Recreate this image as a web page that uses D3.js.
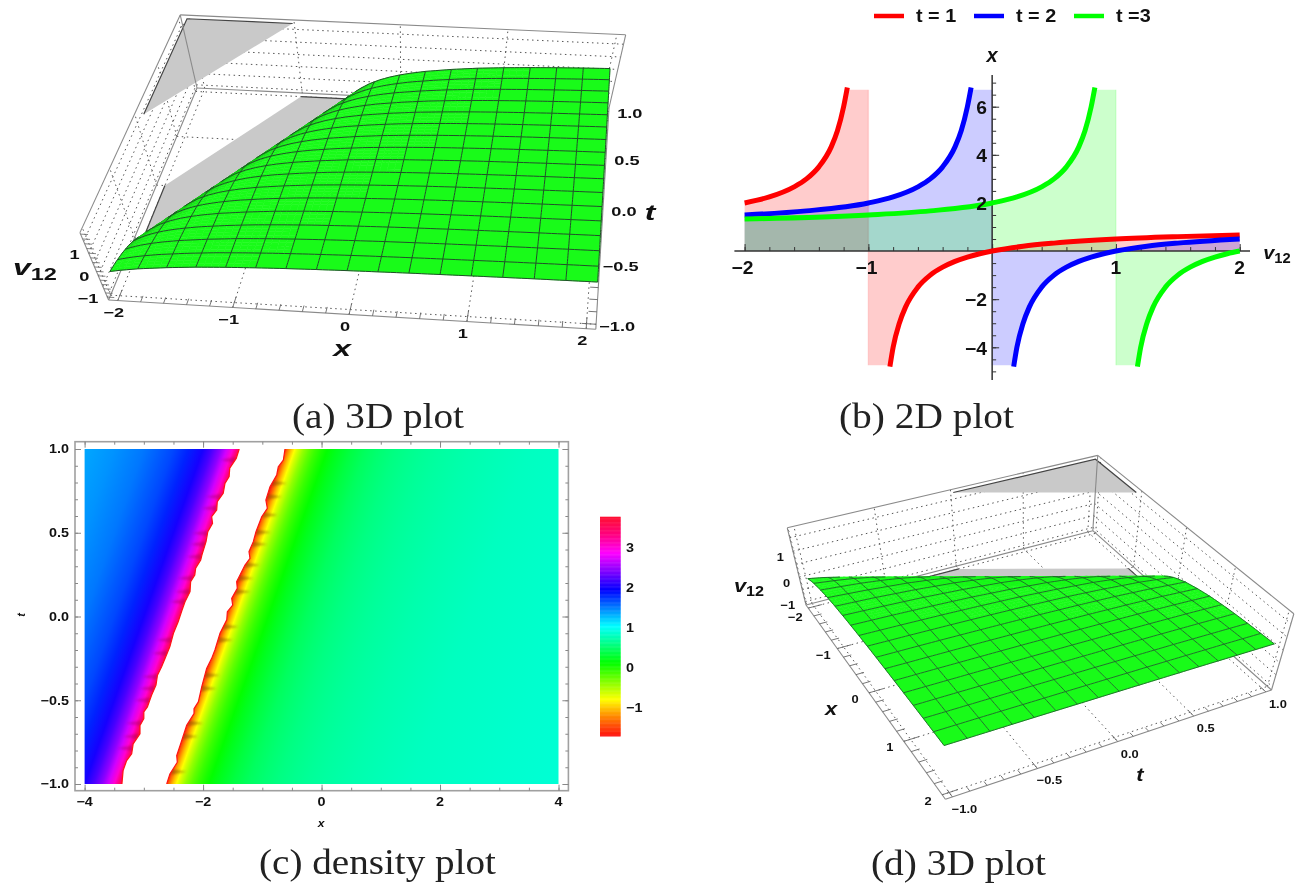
<!DOCTYPE html>
<html>
<head>
<meta charset="utf-8">
<script src="https://cdn.jsdelivr.net/npm/d3@7"></script>
<style>
  body { margin: 0; background: #fff; }
  svg { display: block; font-family: "Liberation Sans", Arial, sans-serif; filter: blur(0.45px); }
  .cap { font-family: "Liberation Serif", serif; fill: #222; }
</style>
</head>
<body>
<div id="chart"></div>
<script>
// curve x(v12), one array per branch
const t1Left = [[-2,2],[-1.8,2.25],[-1.6,2.67],[-1.5,3],[-1.4,3.5],[-1.3,4.33],[-1.25,5],[-1.2,6],[-1.17,6.8]];
const t1Right = [[-0.826,-4.8],[-0.8,-4],[-0.75,-3],[-0.7,-2.33],[-0.6,-1.5],[-0.5,-1],[-0.4,-0.67],[-0.3,-0.43],[-0.2,-0.25],[-0.1,-0.11],[0,0],[0.25,0.2],[0.5,0.33],[1,0.5],[1.5,0.6],[2,0.67]];
const t2Left = [[-2,1.5],[-1.5,1.67],[-1,2],[-0.8,2.25],[-0.6,2.67],[-0.5,3],[-0.4,3.5],[-0.3,4.33],[-0.25,5],[-0.2,6],[-0.17,6.8]];
const t2Right = [[0.174,-4.8],[0.2,-4],[0.25,-3],[0.3,-2.33],[0.4,-1.5],[0.5,-1],[0.6,-0.67],[0.7,-0.43],[0.8,-0.25],[0.9,-0.11],[1,0],[1.25,0.2],[1.5,0.33],[2,0.5]];
const t3Left = [[-2,1.33],[-1,1.5],[-0.5,1.67],[0,2],[0.2,2.25],[0.4,2.67],[0.5,3],[0.6,3.5],[0.7,4.33],[0.75,5],[0.8,6],[0.83,6.8]];
const t3Right = [[1.174,-4.8],[1.2,-4],[1.25,-3],[1.3,-2.33],[1.4,-1.5],[1.5,-1],[1.6,-0.67],[1.7,-0.43],[1.8,-0.25],[1.9,-0.11],[2,0]];
const curveNames = ['t = 1', 't = 2', 't =3'];
const curveColors = ['#ff0000', '#0000ff', '#00ff00'];
const curvePoles = [-1, 0, 1];

const leftU = [-5,-4.5,-4,-3.5,-3.25,-3,-2.85,-2.7,-2.6,-2.5,-2.45,-2.4,-2.36];
const leftV = [1.33,1.4,1.5,1.67,1.8,2,2.18,2.43,2.67,3,3.22,3.5,3.78];
const rightU = [-1.64,-1.6,-1.55,-1.533,-1.5,-1.45,-1.4,-1.3,-1.2,-1.1,-1,-0.9,-0.75,-0.5,-0.25,0,0.25,0.5,0.75,1,1.5,2,2.5,3,4,5];
const rightV = [-1.78,-1.5,-1.22,-1.14,-1,-0.82,-0.67,-0.43,-0.25,-0.11,0,0.09,0.2,0.33,0.43,0.5,0.556,0.6,0.636,0.667,0.714,0.75,0.78,0.8,0.833,0.857];

// edges of the white band in panel (c)
const bandLeftT = [1,0.944,0.885,0.835,0.795,0.735,0.685,0.636,0.596,0.556,0.506,0.447,0.367,0.337,0.288,0.248,0.208,0.148,0.088,0.033,-0.031,-0.1,-0.18,-0.24,-0.3,-0.35,-0.41,-0.47,-0.54,-0.57,-0.61,-0.65,-0.7,-0.76,-0.82,-0.86,-0.92,-1];
const bandLeftX = [-1.39,-1.44,-1.55,-1.56,-1.63,-1.66,-1.76,-1.77,-1.855,-1.84,-1.92,-1.95,-2.02,-2.04,-2.125,-2.14,-2.21,-2.22,-2.305,-2.36,-2.42,-2.5,-2.56,-2.63,-2.7,-2.77,-2.795,-2.87,-2.94,-3,-3,-3.065,-3.065,-3.18,-3.205,-3.29,-3.35,-3.37];
const bandRightT = [1,0.934,0.894,0.845,0.775,0.695,0.646,0.596,0.506,0.447,0.387,0.347,0.307,0.208,0.168,0.108,0.068,0.029,-0.02,-0.1,-0.2,-0.25,-0.31,-0.42,-0.51,-0.55,-0.58,-0.65,-0.76,-0.83,-0.87,-0.94,-1];
const bandRightX = [-0.617,-0.645,-0.73,-0.757,-0.87,-0.94,-0.915,-1.01,-1.107,-1.152,-1.225,-1.208,-1.292,-1.433,-1.422,-1.517,-1.5,-1.59,-1.6,-1.714,-1.8,-1.855,-1.94,-2.023,-2.08,-2.153,-2.153,-2.277,-2.378,-2.445,-2.435,-2.56,-2.614];
const nickLeftT = [0.934,0.715,0.646,0.497,0.431,0.357,0.228,0.148,0.088,-0.14,-0.22,-0.36,-0.43,-0.5,-0.637,-0.717,-0.787];
const nickRightT = [0.795,0.715,0.606,0.503,0.431,0.307,0.228,0.148,-0.061,-0.14,-0.35,-0.43,-0.637,-0.717,-0.927];

// hue legend of panel (c)
const hueValues = [-1.73,-1.27,-0.82,-0.36,0.1,0.55,1.01,1.47,1.92,2.38,2.84,3.3,3.75];
const hueColors = ['#ff1010','#ff8000','#ffff00','#80ff00','#00ff00','#00ff80','#00ffff','#0080ff','#0000ff','#8000ff','#ff00ff','#ff0080','#ff1030'];

// surface mesh and tick values
const meshX = [-2,-1.75,-1.5,-1.25,-1,-0.75,-0.5,-0.25,0,0.25,0.5,0.75,1,1.25,1.5,1.75,2];
const meshT = [-1,-0.875,-0.75,-0.625,-0.5,-0.375,-0.25,-0.125,0,0.125,0.25,0.375,0.5,0.625,0.75,0.875,1];
const xTicks3d = [-2,-1,0,1,2];
const tTicks3d = [-1,-0.5,0,0.5,1];
const zTicks3d = [-1,0,1];
const zGrid3d = [-1,-0.5,0,0.5,1,1.5];
const boxX = [-2.08,2.08];
const boxT = [-1.04,1.04];
const boxZ = [-1.14,1.86];
const greyTop = [[-2,1],[-1,1],[-2,0]];
const greyBottom = [[-1,1],[-0.533,1],[-2,-0.467],[-2,0]];
const uClip = -1.533;

const svg = d3.select('#chart').append('svg').attr('width', 1306).attr('height', 883);
const fmt = d => String(d).replace('-', '\u2212');
const fmt1 = d => d3.format('.1f')(d).replace('-', '\u2212');

function label(g, x, y, str, o = {}) {
  return g.append('text')
    .attr('transform', `translate(${x},${y}) scale(${o.sx || 1},1)${o.rot ? ` rotate(${o.rot})` : ''}`)
    .attr('dy', '.35em')
    .attr('text-anchor', o.anchor || 'middle')
    .attr('font-size', o.size || 12)
    .attr('font-weight', o.weight || 'bold')
    .attr('font-style', o.italic ? 'italic' : 'normal')
    .attr('fill', '#111')
    .text(str);
}

function subLabel(g, x, y, size, sx) {
  const t = g.append('text')
    .attr('transform', `translate(${x},${y}) scale(${sx},1)`)
    .attr('text-anchor', 'middle').attr('font-weight', 'bold').attr('fill', '#111');
  t.append('tspan').attr('font-size', size).attr('font-style', 'italic').text('v');
  t.append('tspan').attr('font-size', size * 0.74).attr('dy', size * 0.22).text('12');
}

function caption(x0, x1, y, str) {
  svg.append('text').attr('class', 'cap')
    .attr('x', x0).attr('y', y)
    .attr('font-size', 35)
    .attr('textLength', x1 - x0)
    .attr('lengthAdjust', 'spacingAndGlyphs')
    .text(str);
}

// projective camera of a box, fitted on the drawn corners of its walls
function boxCamera(c) {
  const [x0, y0] = c.A, [x1, y1] = c.B, [x2, y2] = c.C, [x3, y3] = c.D;
  const dx1 = x1 - x2, dx2 = x3 - x2, sx = x0 - x1 + x2 - x3;
  const dy1 = y1 - y2, dy2 = y3 - y2, sy = y0 - y1 + y2 - y3;
  const den = dx1 * dy2 - dx2 * dy1;
  const g = (sx * dy2 - dx2 * sy) / den, h = (dx1 * sy - sx * dy1) / den;
  const p1 = [x1 - x0 + g * x1, y1 - y0 + g * y1, g];
  const p2 = [x3 - x0 + h * x3, y3 - y0 + h * y3, h];
  const p0 = [x0, y0, 1];
  // the z column from least squares on the three top corners
  const N = [[0,0,0],[0,0,0],[0,0,0]], R = [0,0,0];
  [[c.E,0,0],[c.F,0,1],[c.H,1,1]].forEach(([[u, v], a, b]) => {
    const q = [0,1,2].map(i => p0[i] + a * p1[i] + b * p2[i]);
    [[[1,0,-u], u * q[2] - q[0]], [[0,1,-v], v * q[2] - q[1]]].forEach(([r, s]) => {
      for (let i = 0; i < 3; i++) {
        R[i] += r[i] * s;
        for (let j = 0; j < 3; j++) N[i][j] += r[i] * r[j];
      }
    });
  });
  const det = m => m[0][0]*(m[1][1]*m[2][2]-m[1][2]*m[2][1]) - m[0][1]*(m[1][0]*m[2][2]-m[1][2]*m[2][0]) + m[0][2]*(m[1][0]*m[2][1]-m[1][1]*m[2][0]);
  const D = det(N);
  const p3 = [0,1,2].map(k => det(N.map((row, i) => row.map((val, j) => j === k ? R[i] : val))) / D);
  const sa = d3.scaleLinear().domain(boxX).range([0, 1]);
  const sb = d3.scaleLinear().domain(boxT).range([0, 1]);
  const sc = d3.scaleLinear().domain(boxZ).range([0, 1]);
  return (x, t, z) => {
    const a = sa(x), b = sb(t), e = sc(z);
    const w = p0[2] + a * p1[2] + b * p2[2] + e * p3[2];
    return [(p0[0] + a * p1[0] + b * p2[0] + e * p3[0]) / w,
            (p0[1] + a * p1[1] + b * p2[1] + e * p3[1]) / w];
  };
}

const vOfU = d3.scaleLinear().domain(rightU).range(rightV).clamp(true);
const surfaceShade = d3.scaleLinear()
  .domain([-1.14, -0.75, -0.35, -0.1])
  .range(['#0f8f0f', '#10b510', '#16e016', '#19fb19'])
  .clamp(true);

// keep the part of an (x,t) polygon on the surface side of the clip line
function clipPolygon(pts) {
  const out = [];
  pts.forEach((p, i) => {
    const q = pts[(i + 1) % pts.length];
    const up = p[0] - p[1] - uClip, uq = q[0] - q[1] - uClip;
    if (up >= 0) out.push(p);
    if (up * uq < 0) {
      const f = up / (up - uq);
      out.push([p[0] + f * (q[0] - p[0]), p[1] + f * (q[1] - p[1])]);
    }
  });
  return out;
}

function draw3d(cfg) {
  const g = svg.append('g');
  const cam = boxCamera(cfg.corners);
  const line = d3.line();
  const [x0, x1] = boxX, [t0, t1] = boxT, [z0, z1] = boxZ;
  const seg = (a, b, st, w, dash) => g.append('path')
    .attr('d', line([cam(...a), cam(...b)]))
    .attr('fill', 'none').attr('stroke', st).attr('stroke-width', w)
    .attr('stroke-dasharray', dash || null);

  // dotted face grids
  const dots = (a, b) => seg(a, b, '#555', 1, '1.5 3.5');
  xTicks3d.forEach(x => { dots([x, t0, z0], [x, t1, z0]); dots([x, t1, z0], [x, t1, z1]); });
  tTicks3d.forEach(t => { dots([x0, t, z0], [x1, t, z0]); dots([x0, t, z0], [x0, t, z1]); });
  zGrid3d.forEach(z => { dots([x0, t1, z], [x1, t1, z]); dots([x0, t0, z], [x0, t1, z]); });

  // clipped parts of the surface
  [[greyTop, z1], [greyBottom, z0]].forEach(([poly, z]) => {
    g.append('path')
      .attr('d', line(poly.map(p => cam(p[0], p[1], z))) + 'Z')
      .attr('fill', '#c9c9c9');
  });
  [[[-1, 1, z1], [-2, 1, z1], [-2, 0, z1]], [[-0.533, 1, z0], [-1, 1, z0]], [[-2, 0, z0], [-2, -0.467, z0]]].forEach(pts => {
    g.append('path').attr('d', line(pts.map(p => cam(...p))))
      .attr('fill', 'none').attr('stroke', '#444').attr('stroke-width', 1.2);
  });

  // box edges
  const edge = (a, b) => seg(a, b, '#8a8a8a', 1.1);
  edge([x0,t0,z0],[x1,t0,z0]); edge([x1,t0,z0],[x1,t1,z0]); edge([x1,t1,z0],[x0,t1,z0]); edge([x0,t1,z0],[x0,t0,z0]);
  edge([x0,t0,z1],[x0,t1,z1]); edge([x0,t1,z1],[x1,t1,z1]);
  edge([x0,t0,z0],[x0,t0,z1]); edge([x0,t1,z0],[x0,t1,z1]); edge([x1,t1,z0],[x1,t1,z1]);

  // axis ticks
  const tickGrey = '#666';
  d3.range(-2, 2.01, 0.2).forEach(x => {
    const major = Number.isInteger(+x.toFixed(3));
    seg([x, t0, z0], [x, t0 + (major ? 0.09 : 0.05), z0], tickGrey, 0.9);
  });
  d3.range(-1, 1.01, 0.1).forEach(t => {
    const major = Math.abs(t * 2 - Math.round(t * 2)) < 1e-6;
    seg([x1, t, z0], [x1 - (major ? 0.12 : 0.07), t, z0], tickGrey, 0.9);
  });
  d3.range(-1, 1.81, 0.2).forEach(z => seg([x0, t0, z], [x0 + 0.06, t0, z], tickGrey, 0.8));

  const zAt = (x, t) => vOfU(Math.max(x - t, uClip));
  const onSurface = (x, t) => cam(x, t, zAt(x, t));

  // the side of the surface that folds away from the camera
  const facing = (x, t) => {
    const e = 0.004, c = onSurface(x, t), a = onSurface(x + e, t), b = onSurface(x, t - e);
    return (a[0] - c[0]) * (b[1] - c[1]) - (a[1] - c[1]) * (b[0] - c[0]);
  };
  const frontSign = Math.sign(facing(1, 0));
  const isFront = (x, t) => Math.sign(facing(x, t)) === frontSign;

  // surface cells, the hidden side first and then back to front
  const backCells = g.append('g'), frontCells = g.append('g');
  for (let j = meshT.length - 2; j >= 0; j--) {
    for (let i = 0; i < meshX.length - 1; i++) {
      const n = meshX[i] - meshT[j + 1] < 0.1 ? 4 : 1;
      const dx = (meshX[i + 1] - meshX[i]) / n, dt = (meshT[j + 1] - meshT[j]) / n;
      for (let b = n - 1; b >= 0; b--) {
        for (let a = 0; a < n; a++) {
          const xa = meshX[i] + a * dx, ta = meshT[j] + b * dt;
          const poly = clipPolygon([[xa, ta], [xa + dx, ta], [xa + dx, ta + dt], [xa, ta + dt]]);
          if (poly.length < 3) continue;
          const mx = d3.mean(poly, p => p[0]), mt = d3.mean(poly, p => p[1]);
          const col = surfaceShade(zAt(mx, mt));
          (isFront(mx, mt) ? frontCells : backCells).append('path')
            .attr('d', line(poly.map(p => onSurface(p[0], p[1]))) + 'Z')
            .attr('fill', col).attr('stroke', col).attr('stroke-width', 0.5);
        }
      }
    }
  }

  // mesh lines along x and along t, only where the surface faces the camera
  const meshPath = pts => {
    let run = [];
    const flush = () => {
      if (run.length > 1) {
        g.append('path').attr('d', line(run.map(p => onSurface(p[0], p[1]))))
          .attr('fill', 'none').attr('stroke', cfg.meshColor).attr('stroke-width', cfg.meshWidth);
      }
      run = [];
    };
    pts.forEach(p => { if (isFront(p[0], p[1])) run.push(p); else flush(); });
    flush();
  };
  const fine = d3.range(0, 1.0001, 1 / 80);
  meshX.forEach(x => meshPath(fine.map(f => [x, -1 + 2 * f]).filter(p => p[0] - p[1] >= uClip)));
  meshT.forEach(t => meshPath(fine.map(f => [-2 + 4 * f, t]).filter(p => p[0] - p[1] >= uClip)));

  // labels
  const at = (p, off, nudge) => [p[0] + off[0] + (nudge ? nudge[0] : 0), p[1] + off[1] + (nudge ? nudge[1] : 0)];
  xTicks3d.forEach(x => {
    const [a, b] = at(cam(x, t0, z0), cfg.xOff, cfg.xNudge && cfg.xNudge[x]);
    label(g, a, b, fmt(x), { size: cfg.tickSize, sx: cfg.tickSx });
  });
  tTicks3d.forEach(t => {
    const [a, b] = at(cam(x1, t, z0), cfg.tOff);
    label(g, a, b, fmt1(t), { size: cfg.tickSize, sx: cfg.tickSx });
  });
  zTicks3d.forEach(z => {
    const [a, b] = at(cam(x0, t0, z), cfg.zOff, cfg.zNudge && cfg.zNudge[z]);
    label(g, a, b, fmt(z), { size: cfg.tickSize, sx: cfg.tickSx, anchor: 'end' });
  });
  subLabel(g, cfg.vPos[0], cfg.vPos[1], cfg.nameSize, cfg.nameSx);
  label(g, cfg.xPos[0], cfg.xPos[1], 'x', { size: cfg.nameSize, sx: cfg.nameSx, italic: true });
  label(g, cfg.tPos[0], cfg.tPos[1], 't', { size: cfg.nameSize, sx: cfg.nameSx, italic: true });
}

draw3d({
  corners: { A: [108.6, 300], B: [595.8, 329.3], C: [609, 108], D: [197, 88], E: [80, 234.3], F: [180.8, 14], H: [625, 34.3] },
  meshColor: '#1f4f28', meshWidth: 1,
  tickSize: 13, tickSx: 1.4, nameSize: 22, nameSx: 1.45,
  xOff: [-4, 12], tOff: [21, 2], zOff: [-9, 1],
  vPos: [35, 275], xPos: [342, 348], tPos: [650, 212]
});

draw3d({
  corners: { A: [806, 605], B: [945.4, 799.3], C: [1271.5, 690], D: [1092.8, 530.7], E: [787.4, 530], F: [1097.5, 454.3], H: [1294, 612.7] },
  meshColor: '#1f6a2a', meshWidth: 0.95,
  tickSize: 11.5, tickSx: 1.12, nameSize: 19, nameSx: 1.15,
  xOff: [-14, 6], tOff: [12, 12], zOff: [-9, 6],
  xNudge: { '-2': [1, 3] }, zNudge: { '-1': [-1, -3] },
  vPos: [749, 592], xPos: [831, 708], tPos: [1140, 774]
});

// panel (b)
(function () {
  const g = svg.append('g');
  const x = d3.scaleLinear().domain([-2, 2]).range([744.6, 1239.7]);
  const y = d3.scaleLinear().domain([6, -4]).range([106.7, 347.3]);
  const topClip = 6.7, botClip = -4.75;
  const clampY = v => Math.max(botClip, Math.min(topClip, v));
  const area = d3.area().x(d => x(d[0])).y0(y(0)).y1(d => y(clampY(d[1]))).curve(d3.curveMonotoneX);
  const path = d3.line().x(d => x(d[0])).y(d => y(d[1])).curve(d3.curveMonotoneX);
  const branches = [[t1Left, t1Right], [t2Left, t2Right], [t3Left, t3Right]];

  branches.forEach(([left, right], i) => {
    g.append('path').attr('d', area(left.concat([[curvePoles[i], topClip]])))
      .attr('fill', curveColors[i]).attr('fill-opacity', 0.2);
    g.append('path').attr('d', area([[curvePoles[i], botClip]].concat(right)))
      .attr('fill', curveColors[i]).attr('fill-opacity', 0.2);
    g.append('line')
      .attr('x1', x(curvePoles[i])).attr('x2', x(curvePoles[i]))
      .attr('y1', y(topClip)).attr('y2', y(botClip))
      .attr('stroke', curveColors[i]).attr('stroke-opacity', 0.12).attr('stroke-width', 1.5);
  });

  const axisB = d3.axisTop(x).tickValues(d3.range(-2, 2.01, 1)).tickSize(7).tickFormat('');
  const axisBm = d3.axisTop(x).tickValues(d3.range(-2, 2.01, 0.2)).tickSize(4).tickFormat('');
  const axisL = d3.axisRight(y).tickValues([-4, -2, 2, 4, 6]).tickSize(7).tickFormat('');
  const axisLm = d3.axisRight(y).tickValues(d3.range(-5, 7.01, 0.5)).tickSize(4).tickFormat('');
  [axisBm, axisB].forEach(a => {
    const s = g.append('g').attr('transform', `translate(0,${y(0)})`).call(a);
    s.select('.domain').remove();
    s.selectAll('line').attr('stroke', '#333').attr('stroke-width', 1);
  });
  [axisLm, axisL].forEach(a => {
    const s = g.append('g').attr('transform', `translate(${x(0)},0)`).call(a);
    s.select('.domain').remove();
    s.selectAll('line').attr('stroke', '#333').attr('stroke-width', 1);
  });
  g.append('line').attr('x1', 734.4).attr('x2', 1250).attr('y1', y(0)).attr('y2', y(0)).attr('stroke', '#333').attr('stroke-width', 1.5);
  g.append('line').attr('x1', x(0)).attr('x2', x(0)).attr('y1', 75).attr('y2', 380).attr('stroke', '#333').attr('stroke-width', 1.5);

  branches.forEach(([left, right], i) => {
    [left, right].forEach(b => {
      g.append('path').attr('d', path(b)).attr('fill', 'none')
        .attr('stroke', curveColors[i]).attr('stroke-width', 5);
    });
  });

  [-2, -1, 1, 2].forEach(d => label(g, x(d) - (d < 0 ? 2 : 0), 268, fmt(d), { size: 18, sx: 1.07 }));
  [-4, -2, 2, 4, 6].forEach(d => label(g, 987, y(d) + 1, fmt(d), { size: 18, sx: 1.07, anchor: 'end' }));
  label(g, 992, 55, 'x', { size: 20, italic: true });
  subLabel(g, 1277, 259, 19, 1.05);

  // legend
  const legX = [874, 974, 1074];
  curveNames.forEach((n, i) => {
    g.append('line').attr('x1', legX[i]).attr('x2', legX[i] + 30).attr('y1', 16).attr('y2', 16)
      .attr('stroke', curveColors[i]).attr('stroke-width', 4.5);
    label(g, legX[i] + 42, 16, n, { size: 18, sx: 1.1, anchor: 'start' });
  });
})();

// panel (c)
(function () {
  const g = svg.append('g');
  const x = d3.scaleLinear().domain([-4, 4]).range([84.6, 558.5]);
  const t = d3.scaleLinear().domain([-1, 1]).range([784, 449]);
  const hue = d3.scaleLinear().domain(hueValues).range(hueColors).clamp(true);
  const profile = leftU.map((u, i) => [u, leftV[i]]).concat(rightU.map((u, i) => [u, rightV[i]]));

  // colour runs along u = x - t, so the gradient vector is normal to the lines of constant u
  const ex = x(1) - x(0), et = t(0) - t(1);
  const nl = Math.hypot(et, ex), nx = et / nl, ny = ex / nl, perU = ex * nx;
  const grad = svg.append('defs').append('linearGradient').attr('id', 'density')
    .attr('gradientUnits', 'userSpaceOnUse')
    .attr('x1', x(-4)).attr('y1', t(1))
    .attr('x2', x(-4) + nx * perU * 10).attr('y2', t(1) + ny * perU * 10);
  grad.selectAll('stop').data(profile).join('stop')
    .attr('offset', d => (d[0] + 5) / 10)
    .attr('stop-color', d => hue(d[1]));
  const defs = svg.select('defs');
  defs.append('clipPath').attr('id', 'plotClip').append('rect')
    .attr('x', x(-4)).attr('y', t(1)).attr('width', x(4) - x(-4)).attr('height', t(-1) - t(1));
  defs.append('filter').attr('id', 'soft').append('feGaussianBlur').attr('stdDeviation', 0.9);

  g.append('rect').attr('x', x(-4)).attr('y', t(1))
    .attr('width', x(4) - x(-4)).attr('height', t(-1) - t(1)).attr('fill', 'url(#density)');

  const inner = g.append('g').attr('clip-path', 'url(#plotClip)');
  const leftEdge = d3.scaleLinear().domain(bandLeftT.slice().reverse()).range(bandLeftX.slice().reverse());
  const rightEdge = d3.scaleLinear().domain(bandRightT.slice().reverse()).range(bandRightX.slice().reverse());
  const nicks = inner.append('g').attr('filter', 'url(#soft)');
  nickLeftT.forEach(v => {
    const px = x(leftEdge(v)), py = t(v);
    nicks.append('path').attr('d', d3.line()([[px, py - 3], [px - 15, py], [px, py + 3]]) + 'Z')
      .attr('fill', '#90004a').attr('fill-opacity', 0.35);
  });
  nickRightT.forEach(v => {
    const px = x(rightEdge(v)), py = t(v);
    nicks.append('path').attr('d', d3.line()([[px, py - 3], [px + 15, py], [px, py + 3]]) + 'Z')
      .attr('fill', '#7a4a00').attr('fill-opacity', 0.45);
  });

  const leftPts = bandLeftT.map((v, i) => [x(bandLeftX[i]), t(v)]);
  const rightPts = bandRightT.map((v, i) => [x(bandRightX[i]), t(v)]);
  inner.append('path').attr('d', d3.line()(leftPts.concat(rightPts.slice().reverse())) + 'Z').attr('fill', '#fff');
  [leftPts, rightPts].forEach(p => {
    inner.append('path').attr('d', d3.line()(p)).attr('fill', 'none')
      .attr('stroke', '#ff1414').attr('stroke-width', 1.2);
  });

  // frame and ticks on all four sides
  g.append('rect').attr('x', 75).attr('y', 441.7).attr('width', 493.4).attr('height', 349)
    .attr('fill', 'none').attr('stroke', '#a0a0a0').attr('stroke-width', 1.6);
  const xM = d3.range(-4, 4.01, 2), xm = d3.range(-4, 4.01, 0.5);
  const tM = d3.range(-1, 1.01, 0.5), tm = d3.range(-1, 1.01, 0.1);
  const place = (axis, tr) => {
    const s = g.append('g').attr('transform', tr).call(axis);
    s.select('.domain').remove();
    s.selectAll('line').attr('stroke', '#888').attr('stroke-width', 1);
  };
  [[xm, 3], [xM, 6]].forEach(([vals, len]) => {
    place(d3.axisTop(x).tickValues(vals).tickSize(len).tickFormat(''), 'translate(0,790.7)');
    place(d3.axisBottom(x).tickValues(vals).tickSize(len).tickFormat(''), 'translate(0,441.7)');
  });
  [[tm, 3], [tM, 6]].forEach(([vals, len]) => {
    place(d3.axisRight(t).tickValues(vals).tickSize(len).tickFormat(''), 'translate(75,0)');
    place(d3.axisLeft(t).tickValues(vals).tickSize(len).tickFormat(''), 'translate(568.4,0)');
  });
  xM.forEach(d => label(g, x(d), 802, fmt(d), { size: 12.5, sx: 1.15 }));
  tM.forEach(d => label(g, 69, t(d), fmt1(d), { size: 12.5, sx: 1.15, anchor: 'end' }));
  label(g, 321, 823, 'x', { size: 11, italic: true, sx: 1.1 });
  label(g, 21.5, 615, 't', { size: 11, italic: true, rot: -90 });

  // colour bar
  const bar = d3.scaleLinear().domain([-1.73, 3.75]).range([736, 516.7]);
  const steps = d3.range(-1.73, 3.75, 0.02);
  g.selectAll('.bar').data(steps).join('rect').attr('class', 'bar')
    .attr('x', 600).attr('width', 20.6)
    .attr('y', d => bar(d + 0.02)).attr('height', d => bar(d) - bar(d + 0.02) + 0.5)
    .attr('fill', d => hue(d));
  [-1, 0, 1, 2, 3].forEach(d => label(g, 626, bar(d) + 0.5, fmt(d), { size: 12.5, sx: 1.15, anchor: 'start' }));
})();

caption(292, 464, 428, '(a) 3D plot');
caption(839, 1014, 428, '(b) 2D plot');
caption(259, 496, 874, '(c) density plot');
caption(871, 1046, 875, '(d) 3D plot');
</script>
</body>
</html>
